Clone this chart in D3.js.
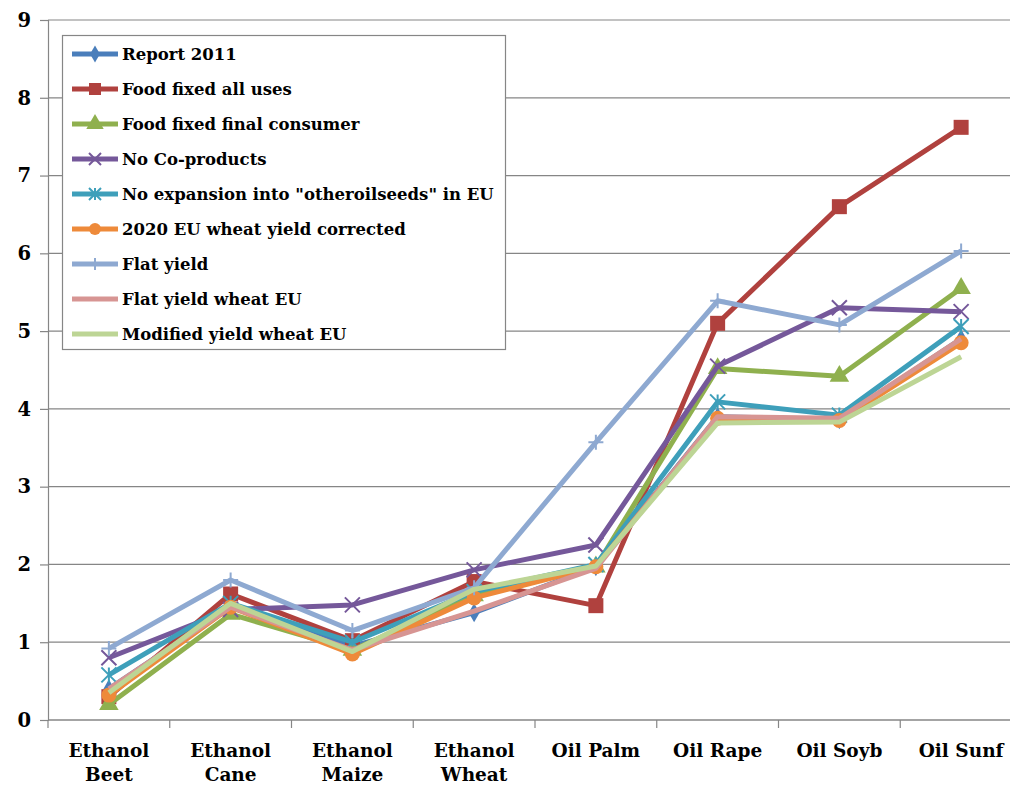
<!DOCTYPE html>
<html><head><meta charset="utf-8">
<script src="https://cdn.jsdelivr.net/npm/d3@7"></script>
<style>body{margin:0;background:#fff}svg{display:block}</style>
</head><body><svg id="c" width="1010" height="785"></svg>
<script>
const categories = [["Ethanol","Beet"],["Ethanol","Cane"],["Ethanol","Maize"],["Ethanol","Wheat"],["Oil Palm"],["Oil Rape"],["Oil Soyb"],["Oil Sunf"]];
const yTicks = [0,1,2,3,4,5,6,7,8,9];
const seriesNames = ["Report 2011","Food fixed all uses","Food fixed final consumer","No Co-products","No expansion into \"otheroilseeds\" in EU","2020 EU wheat yield corrected","Flat yield","Flat yield wheat EU","Modified yield wheat EU"];
const report2011      = [0.40,1.45,0.95,1.38,1.97,3.90,3.86,4.90];
const foodFixedAll    = [0.30,1.62,1.02,1.78,1.47,5.10,6.60,7.62];
const foodFixedFinal  = [0.20,1.36,0.90,1.60,1.97,4.52,4.42,5.55];
const noCoProducts    = [0.80,1.42,1.48,1.93,2.25,4.55,5.30,5.25];
const noExpansion     = [0.58,1.50,1.00,1.65,2.00,4.09,3.92,5.06];
const wheatCorrected  = [0.32,1.45,0.85,1.57,1.97,3.88,3.85,4.85];
const flatYield       = [0.92,1.80,1.15,1.70,3.57,5.39,5.08,6.03];
const flatYieldWheat  = [0.40,1.45,0.90,1.40,1.95,3.90,3.88,4.90];
const modifiedYield   = [0.35,1.50,0.88,1.68,1.98,3.82,3.83,4.67];
const seriesValues = [report2011,foodFixedAll,foodFixedFinal,noCoProducts,noExpansion,wheatCorrected,flatYield,flatYieldWheat,modifiedYield];
const colors = ["#4A7EBB","#B0413E","#8FB04E","#75589A","#3E9FBA","#EE8A3A","#8EA9D1","#D79593","#BDD595"];
const markers = ["diamond","square","triangle","x","asterisk","circle","plus","none","none"];

const svg = d3.select("#c");
svg.append("rect").attr("width",1010).attr("height",785).attr("fill","#fff");
const L=48, R=1022, T=20, B=720;
const x = d3.scaleBand().domain(d3.range(categories.length)).range([L,R]);
const y = d3.scaleLinear().domain([0,9]).range([B,T]);
const FONT = "DejaVu Serif";

svg.append("g").selectAll("line").data(yTicks.filter(d=>d>0)).join("line")
  .attr("x1",L).attr("x2",R).attr("y1",d=>y(d)).attr("y2",d=>y(d))
  .attr("stroke","#868686").attr("stroke-width",1.2);

const ya = svg.append("g").attr("transform",`translate(${L},0)`)
  .call(d3.axisLeft(y).tickValues(yTicks).tickSize(8).tickPadding(9).tickFormat(d3.format("d")));
ya.select(".domain").attr("stroke","#868686").attr("stroke-width",1.2);
ya.selectAll(".tick line").attr("stroke","#868686").attr("stroke-width",1.2);
ya.selectAll("text").attr("font-family",FONT).attr("font-weight","bold").attr("font-size",19.5).attr("fill","#000");

const xa = svg.append("g").attr("transform",`translate(0,${B})`);
xa.append("line").attr("x1",L).attr("x2",R).attr("stroke","#868686").attr("stroke-width",1.5);
xa.selectAll(".tk").data(d3.range(categories.length+1)).join("line")
  .attr("x1",i=>L+i*x.step()).attr("x2",i=>L+i*x.step()).attr("y1",0).attr("y2",8)
  .attr("stroke","#868686").attr("stroke-width",1.2);
xa.selectAll(".lb").data(categories).join("text")
  .attr("x",(d,i)=>x(i)+x.bandwidth()/2).attr("y",37)
  .attr("text-anchor","middle").attr("font-family",FONT).attr("font-weight","bold").attr("font-size",18.5)
  .each(function(d){ d3.select(this).selectAll("tspan").data(d).join("tspan")
     .attr("x",d3.select(this).attr("x")).attr("dy",(t,j)=>j?24:0).text(t=>t); });

function drawMarker(g, type, color, cx, cy, s){
  if(type==="diamond") g.append("path").attr("d",d3.symbol(d3.symbolDiamond,s*7)()).attr("transform",`translate(${cx},${cy})`).attr("fill",color);
  else if(type==="square") g.append("rect").attr("x",cx-s/2).attr("y",cy-s/2).attr("width",s).attr("height",s).attr("fill",color);
  else if(type==="triangle") g.append("path").attr("d",d3.symbol(d3.symbolTriangle,s*11)()).attr("transform",`translate(${cx},${cy})`).attr("fill",color);
  else if(type==="circle") g.append("circle").attr("cx",cx).attr("cy",cy).attr("r",s/2).attr("fill",color);
  else if(type==="x"){ const h=s/2; g.append("path").attr("d",`M${cx-h},${cy-h}L${cx+h},${cy+h}M${cx-h},${cy+h}L${cx+h},${cy-h}`).attr("stroke",color).attr("stroke-width",2).attr("fill","none"); }
  else if(type==="plus"){ const h=s/2; g.append("path").attr("d",`M${cx-h},${cy}L${cx+h},${cy}M${cx},${cy-h}L${cx},${cy+h}`).attr("stroke",color).attr("stroke-width",2).attr("fill","none"); }
  else if(type==="asterisk"){ const h=s/2; g.append("path").attr("d",`M${cx-h},${cy-h}L${cx+h},${cy+h}M${cx-h},${cy+h}L${cx+h},${cy-h}M${cx},${cy-h}L${cx},${cy+h}`).attr("stroke",color).attr("stroke-width",2).attr("fill","none"); }
}

const line = d3.line().x((d,i)=>x(i)+x.bandwidth()/2).y(d=>y(d));
const plot = svg.append("g");
seriesValues.forEach((vals,k)=>{
  const g = plot.append("g");
  g.append("path").datum(vals).attr("d",line).attr("fill","none").attr("stroke",colors[k])
    .attr("stroke-width",5).attr("stroke-linejoin","round").attr("stroke-linecap","butt");
  if(markers[k]!=="none") vals.forEach((v,i)=>drawMarker(g,markers[k],colors[k],x(i)+x.bandwidth()/2,y(v),15));
});

const lg = svg.append("g");
lg.append("rect").attr("x",62.5).attr("y",35.5).attr("width",443).attr("height",314)
  .attr("fill","#fff").attr("stroke","#868686").attr("stroke-width",1.2);
seriesNames.forEach((n,k)=>{
  const cy = 54 + k*35;
  lg.append("line").attr("x1",72).attr("x2",118).attr("y1",cy).attr("y2",cy).attr("stroke",colors[k]).attr("stroke-width",5);
  if(markers[k]!=="none") drawMarker(lg,markers[k],colors[k],95,cy,12);
  lg.append("text").attr("x",122).attr("y",cy+6).attr("font-family",FONT).attr("font-weight","bold")
    .attr("font-size",16.5).attr("fill","#000").text(n);
});
</script></body></html>
